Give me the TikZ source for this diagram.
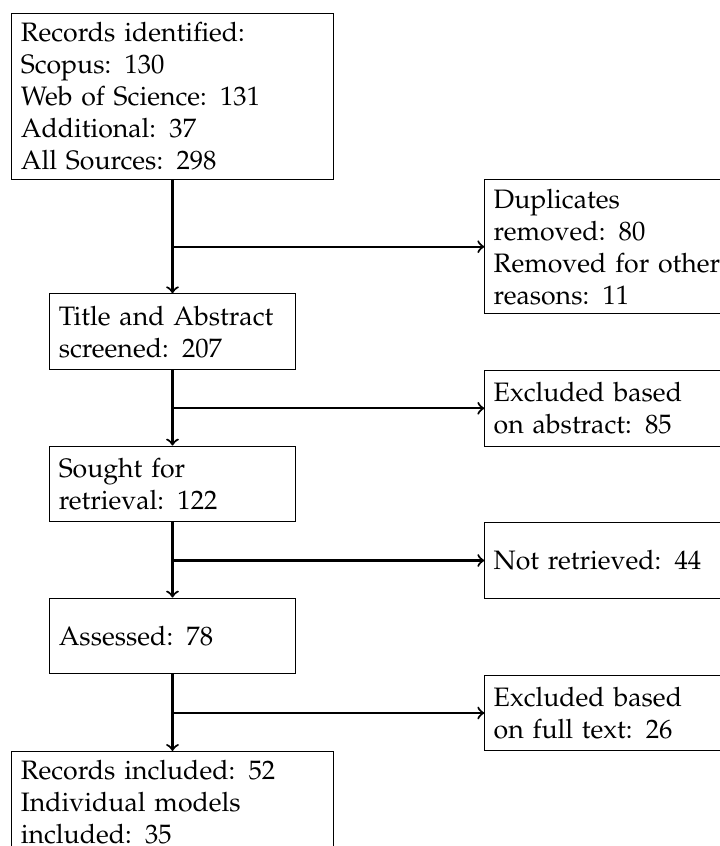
\documentclass[tikz,border=0pt]{standalone}
\usepackage[T1]{fontenc}
\usepackage{mathpazo}
\hyphenpenalty=10000
\exhyphenpenalty=10000
\begin{document}
\begin{tikzpicture}[x=0.3752pt,y=-0.3752pt,
  box/.style={draw,thin,align=left,minimum height=1cm,inner sep=3.33pt},
  mainw/.style={box,text width=4cm},
  midw/.style={box,text width=3cm},
  flow/.style={thick,->}]
\useasboundingbox (0,0) rectangle (720,846);
\clip (0,0) rectangle (720,846);
\node[mainw] (b1) at (172.5,96.5) {Records identified:\\ Scopus: 130\\ Web of Science: 131\\ Additional: 37\\ All Sources: 298};
\node[midw] (b2) at (172.5,331.75) {Title and Abstract\\ screened: 207};
\node[midw] (b3) at (172.5,484) {Sought for\\ retrieval: 122};
\node[midw] (b4) at (172.5,636) {Assessed: 78};
\node[mainw,anchor=north] (b5) at (172.5,751) {Records included: 52\\ Individual models\\ included: 35};
\node[midw,anchor=west] (r1) at (484.3,246.7) {Duplicates\\ removed: 80\\ Removed for other\\ reasons: 11};
\node[midw,anchor=west] (r2) at (484.3,408.3) {Excluded based\\ on abstract: 85};
\node[midw,anchor=west] (r3) at (484.3,560.5) {Not retrieved: 44};
\node[midw,anchor=west] (r4) at (484.3,713) {Excluded based\\ on full text: 26};
\draw[flow] (b1) -- (b2);
\draw[flow] (b2) -- (b3);
\draw[flow] (b3) -- (b4);
\draw[flow] (b4) -- (b5);
\draw[flow] (b1.south |- r1.west) -- (r1.west);
\draw[flow] (b2.south |- r2.west) -- (r2.west);
\draw[flow] (b3.south |- r3.west) -- (r3.west);
\draw[flow] (b4.south |- r4.west) -- (r4.west);
\end{tikzpicture}
\end{document}
